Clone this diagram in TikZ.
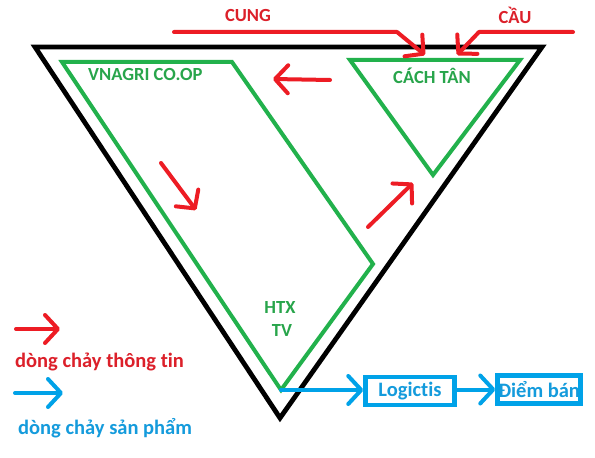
\documentclass[tikz,border=0pt]{standalone}
\usepackage{fontspec}
\setmainfont{Carlito}[Ligatures=CommonOff]
\usetikzlibrary{arrows.meta}
\definecolor{pred}{RGB}{237,28,36}
\definecolor{pgreen}{RGB}{34,177,76}
\definecolor{pblue}{RGB}{0,162,232}
\definecolor{tred}{RGB}{220,32,42}
\definecolor{tgreen}{RGB}{40,165,75}
\definecolor{tblue}{RGB}{20,155,220}
\begin{document}
\begin{tikzpicture}[x=1bp,y=-1bp,
  stroke/.style={line width=4bp, line cap=round, line join=round},
  blackline/.style={stroke, line width=4.8bp, black, line join=miter},
  greenline/.style={stroke, pgreen, line join=miter},
  redarrow/.style={stroke, pred, -{Straight Barb[length=13bp,width=28bp,round]}},
  bluearrow/.style={stroke, pblue, -{Straight Barb[length=13bp,width=28bp,round]}},
  lab/.style={inner sep=0pt, font=\fontsize{18.5bp}{22bp}\selectfont\bfseries},
  biglab/.style={inner sep=0pt, font=\fontsize{20.5bp}{24bp}\selectfont\bfseries},
  bluebox/.style={draw=pblue, line width=4.5bp, inner sep=0pt, text=tblue,
    font=\fontsize{20.5bp}{24bp}\selectfont\bfseries}]
\path[use as bounding box, fill=white] (0,0) rectangle (595,458);

% outer black triangle
\coordinate (bA) at (35,47);
\coordinate (bB) at (542,47);
\coordinate (bC) at (280,418);
\draw[blackline] (bA) -- (bB) -- (bC) -- cycle;

% green VNAGRI shape
\coordinate (gA) at (62,62);
\coordinate (gB) at (232,62);
\coordinate (gC) at (373,264);
\coordinate (gD) at (281,390);
\draw[greenline] (gA) -- (gB) -- (gC) -- (gD) -- cycle;

% green CACH TAN triangle
\coordinate (cA) at (350,60);
\coordinate (cB) at (520,60);
\coordinate (cC) at (433,175);
\draw[greenline] (cA) -- (cB) -- (cC) -- cycle;

% labels
\node[lab, text=tred, anchor=base] (cung) at (248,22) {CUNG};
\node[lab, text=tred, anchor=base] (cau) at (515,24) {CẦU};
\node[lab, text=tgreen, anchor=base west] (vnagri) at (88,81) {VNAGRI CO.OP};
\node[lab, text=tgreen, anchor=base] (cachtan) at (432,84) {CÁCH TÂN};
\node[lab, text=tgreen, anchor=base] (htx) at (280,313) {HTX};
\node[lab, text=tgreen, anchor=base] (tv) at (282,336) {TV};

% red supply / demand arrows
\coordinate (s0) at (174,32);
\coordinate (s1) at (397,32);
\coordinate (s2) at (425,55);
\draw[redarrow] (s0) -- (s1) -- (s2);
\coordinate (d0) at (573,32);
\coordinate (d1) at (479,32);
\coordinate (d2) at (457,55);
\draw[redarrow] (d0) -- (d1) -- (d2);

% red internal arrows
\coordinate (l0) at (330,80);
\coordinate (l1) at (273,79);
\draw[redarrow] (l0) -- (l1);
\coordinate (m0) at (161,163);
\coordinate (m1) at (196,210);
\draw[redarrow] (m0) -- (m1);
\coordinate (u0) at (368,227);
\coordinate (u1) at (413,183);
\draw[redarrow] (u0) -- (u1);

% product flow boxes
\node[bluebox, minimum width=89bp, minimum height=28bp] (logi) at (410,391) {Logictis};
\node[bluebox, minimum width=83bp, minimum height=28bp] (diem) at (539,389.5) {Điểm bán};
\draw[bluearrow] (gD) -- (gD -| logi.west);
\draw[bluearrow] (logi.east |- diem.west) -- (diem.west);

% legend
\coordinate (lr0) at (16,329);
\coordinate (lr1) at (60,329);
\draw[redarrow] (lr0) -- (lr1);
\node[biglab, text=tred, anchor=base west] (legr) at (15,367) {dòng chảy thông tin};
\coordinate (lb0) at (15,393);
\coordinate (lb1) at (63,393);
\draw[bluearrow] (lb0) -- (lb1);
\node[biglab, text=tblue, anchor=base west] (legb) at (18,434) {dòng chảy sản phẩm};
\end{tikzpicture}
\end{document}
